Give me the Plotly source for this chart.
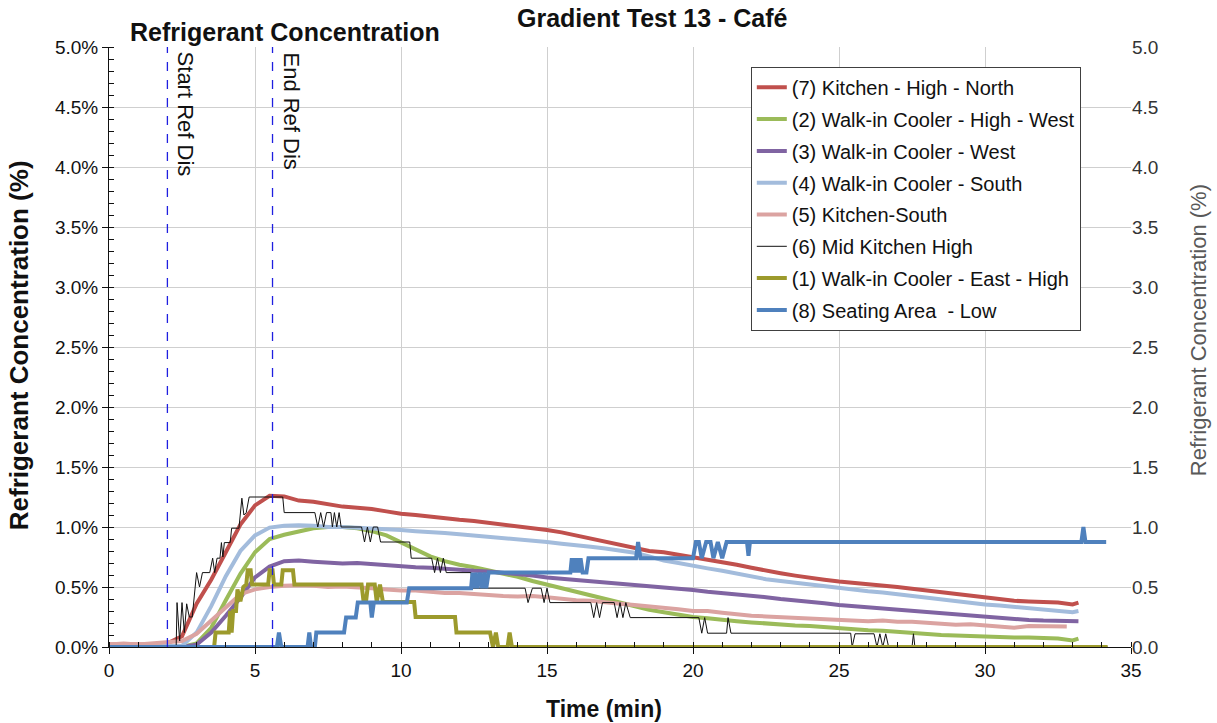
import plotly.graph_objects as go

# ---- time bases (minutes) ----
T_SMOOTH = [i / 2 for i in range(67)] + [33.2]
T_PINK = [i / 2 for i in range(66)] + [32.8]

# ---- sensor readings (% refrigerant) ----
KITCHEN_HIGH_NORTH = [
    0.02, 0.02, 0.015, 0.02, 0.03, 0.09, 0.36, 0.56, 0.79, 1.02, 1.18, 1.26, 1.255, 1.22,
    1.21, 1.19, 1.17, 1.16, 1.15, 1.13, 1.11, 1.10, 1.085, 1.075, 1.06, 1.05, 1.035, 1.02,
    1.01, 0.99, 0.975, 0.955, 0.93, 0.90, 0.875, 0.85, 0.825, 0.80, 0.79, 0.77, 0.75, 0.73,
    0.71, 0.685, 0.66, 0.635, 0.615, 0.595, 0.575, 0.56, 0.545, 0.535, 0.52, 0.51, 0.50,
    0.485, 0.47, 0.455, 0.44, 0.425, 0.41, 0.40, 0.385, 0.38, 0.375, 0.37, 0.355, 0.37,
]
WIC_HIGH_WEST = [
    0.0, 0.0, 0.0, 0.0, 0.0, 0.0, 0.03, 0.16, 0.39, 0.61, 0.79, 0.90, 0.935, 0.96,
    0.99, 1.0, 1.0, 0.99, 0.965, 0.93, 0.87, 0.81, 0.755, 0.715, 0.685, 0.665, 0.64, 0.615,
    0.585, 0.55, 0.52, 0.49, 0.455, 0.425, 0.395, 0.365, 0.335, 0.31, 0.29, 0.27, 0.25, 0.24,
    0.225, 0.215, 0.205, 0.195, 0.19, 0.18, 0.175, 0.165, 0.16, 0.15, 0.14, 0.135, 0.125,
    0.12, 0.11, 0.10, 0.095, 0.09, 0.085, 0.08, 0.08, 0.08, 0.075, 0.07, 0.055, 0.07,
]
WIC_WEST = [
    0.0, 0.0, 0.0, 0.0, 0.0, 0.0, 0.02, 0.12, 0.26, 0.41, 0.58, 0.67, 0.715, 0.72,
    0.71, 0.70, 0.695, 0.70, 0.69, 0.68, 0.67, 0.665, 0.66, 0.65, 0.64, 0.635, 0.63, 0.62,
    0.605, 0.595, 0.58, 0.57, 0.56, 0.55, 0.54, 0.53, 0.52, 0.51, 0.50, 0.49, 0.475, 0.46,
    0.45, 0.44, 0.425, 0.415, 0.40, 0.39, 0.375, 0.365, 0.35, 0.34, 0.33, 0.32, 0.31,
    0.30, 0.29, 0.28, 0.27, 0.26, 0.25, 0.24, 0.235, 0.225, 0.22, 0.215, 0.215, 0.215,
]
WIC_SOUTH = [
    0.005, 0.005, 0.005, 0.005, 0.005, 0.01, 0.12, 0.34, 0.59, 0.80, 0.93, 0.995, 1.01, 1.015,
    1.01, 1.0, 1.0, 0.995, 0.99, 0.98, 0.975, 0.965, 0.96, 0.95, 0.94, 0.93, 0.92, 0.91,
    0.90, 0.89, 0.875, 0.86, 0.85, 0.835, 0.82, 0.80, 0.785, 0.755, 0.72, 0.70, 0.675, 0.655,
    0.635, 0.61, 0.585, 0.565, 0.55, 0.535, 0.52, 0.505, 0.49, 0.48, 0.465, 0.455, 0.44,
    0.425, 0.41, 0.40, 0.385, 0.37, 0.355, 0.345, 0.335, 0.325, 0.315, 0.305, 0.29, 0.30,
]
KITCHEN_SOUTH = [
    0.02, 0.03, 0.02, 0.03, 0.04, 0.05, 0.11, 0.22, 0.34, 0.44, 0.48, 0.50, 0.51, 0.515,
    0.51, 0.50, 0.505, 0.50, 0.49, 0.48, 0.47, 0.47, 0.46, 0.45, 0.45, 0.44, 0.43, 0.425,
    0.42, 0.425, 0.415, 0.40, 0.39, 0.385, 0.37, 0.36, 0.35, 0.34, 0.325, 0.315, 0.30, 0.30,
    0.285, 0.27, 0.26, 0.255, 0.25, 0.24, 0.24, 0.23, 0.225, 0.22, 0.215, 0.22, 0.21,
    0.21, 0.20, 0.19, 0.185, 0.19, 0.18, 0.17, 0.16, 0.175, 0.17, 0.17, 0.17,
]

# stepped sensors: (time, value) pairs
MID_KITCHEN_T = [
    0, 2.3, 2.33, 2.42, 2.5, 2.58, 2.66, 2.75, 2.85, 3.0, 3.1, 3.2, 3.45, 3.55, 3.62, 3.7,
    3.8, 3.85, 3.9, 3.95, 4.15, 4.2, 4.45, 4.55, 4.62, 4.7, 4.8, 5.95, 6.0, 7.05, 7.15,
    7.25, 7.35, 7.45, 7.6, 7.65, 7.72, 7.8, 7.88, 7.95, 8.65, 8.75, 8.85, 8.95, 9.05, 9.2,
    9.3, 10.3, 10.35, 11.05, 11.15, 11.25, 11.35, 11.45, 11.55, 12.4, 12.45, 14.25, 14.35,
    14.5, 14.8, 14.9, 15.0, 15.1, 16.5, 16.6, 16.7, 16.8, 16.9, 17.3, 17.4, 17.5, 17.6,
    17.7, 17.85, 20.2, 20.3, 20.4, 20.5, 21.15, 21.2, 21.3, 25.4, 25.45, 25.55, 26.2, 26.3,
    26.4, 26.5, 26.6, 26.7, 27.5, 27.55, 27.6, 34.2,
]
MID_KITCHEN_V = [
    0, 0, 0.37, 0.05, 0.37, 0.12, 0.36, 0.25, 0.25, 0.62, 0.5, 0.62, 0.62, 0.74, 0.62, 0.74,
    0.74, 0.87, 0.75, 0.87, 0.87, 0.99, 0.99, 1.24, 1.1, 1.12, 1.25, 1.25, 1.12, 1.12, 1.0,
    1.12, 1.0, 1.12, 1.12, 1.0, 1.12, 1.0, 1.12, 1.0, 1.0, 0.875, 1.0, 0.875, 1.0, 1.0,
    0.875, 0.875, 0.74, 0.74, 0.62, 0.74, 0.62, 0.74, 0.62, 0.62, 0.49, 0.49, 0.37,
    0.49, 0.49, 0.37, 0.49, 0.37, 0.37, 0.245, 0.37, 0.245, 0.37, 0.37, 0.245, 0.37, 0.245,
    0.37, 0.245, 0.245, 0.115, 0.245, 0.115, 0.115, 0.245, 0.115, 0.115, 0.0, 0.11, 0.11, 0.0,
    0.11, 0.0, 0.11, 0.0, 0.0, 0.11, 0.0, 0.0,
]
WIC_EAST_T = [
    0, 3.6, 3.65, 4.1, 4.15, 4.2, 4.25, 4.35, 4.4, 4.5, 4.6, 4.7, 4.75, 4.85, 4.9, 5.45,
    5.5, 5.6, 5.65, 5.9, 5.95, 6.3, 6.35, 8.65, 8.72, 8.8, 8.87, 9.1, 9.17, 9.28, 9.38,
    10.45, 10.5, 11.85, 11.9, 13.05, 13.15, 13.25, 13.33, 13.65, 13.72, 13.8, 34.2,
]
WIC_EAST_V = [
    0, 0, 0.12, 0.12, 0.3, 0.12, 0.3, 0.3, 0.48, 0.38, 0.5, 0.52, 0.64, 0.64, 0.52, 0.52,
    0.64, 0.64, 0.52, 0.52, 0.64, 0.64, 0.52, 0.52, 0.375, 0.375, 0.52, 0.52, 0.375, 0.52,
    0.375, 0.375, 0.25, 0.25, 0.12, 0.12, 0.0, 0.12, 0.0, 0.0, 0.12, 0.0, 0.0,
]
SEATING_T = [
    0, 5.75, 5.82, 5.9, 6.8, 6.86, 6.92, 7.05, 7.1, 8.05, 8.12, 8.45, 8.52, 8.95, 9.0, 9.07,
    10.2, 10.28, 12.4, 12.45, 12.5, 12.55, 12.62, 12.7, 12.78, 12.85, 12.92, 13.0, 15.8,
    15.85, 15.9, 15.95, 16.0, 16.05, 16.1, 16.15, 16.22, 16.35, 16.42, 18.05, 18.12, 18.2,
    20.0, 20.1, 20.2, 20.3, 20.45, 20.6, 20.7, 20.85, 21.0, 21.15, 21.85, 21.9, 21.95,
    33.3, 33.37, 33.44, 34.15,
]
SEATING_V = [
    0, 0, 0.12, 0, 0, 0.12, 0, 0, 0.12, 0.12, 0.245, 0.245, 0.37, 0.37, 0.245, 0.37,
    0.37, 0.49, 0.49, 0.62, 0.49, 0.62, 0.49, 0.62, 0.49, 0.62, 0.49, 0.62, 0.62,
    0.74, 0.62, 0.74, 0.62, 0.74, 0.62, 0.74, 0.62, 0.62, 0.74, 0.74, 0.875, 0.74,
    0.74, 0.875, 0.875, 0.74, 0.875, 0.875, 0.74, 0.875, 0.74, 0.875, 0.875, 0.76, 0.875,
    0.875, 1.0, 0.875, 0.875,
]

SERIES = [
    ("(7) Kitchen - High - North", T_SMOOTH, KITCHEN_HIGH_NORTH, "#c0504d", 4),
    ("(2) Walk-in Cooler - High - West", T_SMOOTH, WIC_HIGH_WEST, "#9bbb59", 4),
    ("(3) Walk-in Cooler - West", T_SMOOTH, WIC_WEST, "#8064a2", 4),
    ("(4) Walk-in Cooler - South", T_SMOOTH, WIC_SOUTH, "#a3bcdc", 4),
    ("(5) Kitchen-South", T_PINK, KITCHEN_SOUTH, "#dba3a1", 4),
    ("(6) Mid Kitchen High", MID_KITCHEN_T, MID_KITCHEN_V, "#111111", 1),
    ("(1) Walk-in Cooler - East - High", WIC_EAST_T, WIC_EAST_V, "#9c9a2c", 4),
    ("(8) Seating Area&nbsp; - Low", SEATING_T, SEATING_V, "#4f81bd", 4),
]

EVENTS = [("Start Ref Dis", 2.0), ("End Ref Dis", 5.6)]

FONT = "Liberation Sans, Arial, sans-serif"

fig = go.Figure()
for i, (name, t, v, color, width) in enumerate(SERIES):
    fig.add_trace(go.Scatter(
        x=t, y=v, name=name, mode="lines",
        line=dict(color=color, width=width),
        legendgroup=f"g{i}",
    ))

# invisible trace that anchors the right-hand axis
fig.add_trace(go.Scatter(x=[0], y=[0], yaxis="y2", mode="markers",
                         marker=dict(opacity=0), showlegend=False, hoverinfo="skip"))

for label, t in EVENTS:
    fig.add_shape(type="line", x0=t, x1=t, xref="x", y0=0, y1=1, yref="paper",
                  line=dict(color="#1f1fe0", width=1.3, dash="dash"))
    fig.add_annotation(x=t, y=1, xref="x", yref="paper", text=label, textangle=90,
                       showarrow=False, xanchor="left", yanchor="top", xshift=4, yshift=-3,
                       font=dict(family=FONT, size=22, color="#111111"))

fig.add_annotation(text="<b>Gradient Test 13 - Café</b>", x=0.532, y=1.048, xref="paper",
                   yref="paper", showarrow=False, xanchor="center", yanchor="middle",
                   font=dict(family=FONT, size=25, color="#111111"))
fig.add_annotation(text="<b>Refrigerant Concentration</b>", x=0.0186, y=1.025, xref="paper",
                   yref="paper", showarrow=False, xanchor="left", yanchor="middle",
                   font=dict(family=FONT, size=25, color="#111111"))
fig.add_annotation(text="<b>Refrigerant Concentration (%)</b>", x=-0.088, y=0.503,
                   xref="paper", yref="paper", showarrow=False, textangle=-90,
                   xanchor="center", yanchor="middle",
                   font=dict(family=FONT, size=26, color="#111111"))
fig.add_annotation(text="Refrigerant Concentration (%)", x=1.0656, y=0.528,
                   xref="paper", yref="paper", showarrow=False, textangle=-90,
                   xanchor="center", yanchor="middle",
                   font=dict(family=FONT, size=22, color="#595959"))
fig.add_annotation(text="<b>Time (min)</b>", x=0.484, y=-0.103, xref="paper", yref="paper",
                   showarrow=False, xanchor="center", yanchor="middle",
                   font=dict(family=FONT, size=23, color="#111111"))

tick_font = dict(family=FONT, size=19, color="#111111")
fig.update_layout(
    width=1217, height=723,
    margin=dict(l=109, r=86, t=47, b=76),
    paper_bgcolor="white", plot_bgcolor="white",
    font=dict(family=FONT, color="#111111"),
    showlegend=True,
    legend=dict(x=0.628, y=0.967, xanchor="left", yanchor="top",
                bgcolor="white", bordercolor="#404040", borderwidth=1,
                font=dict(family=FONT, size=20, color="#111111"),
                tracegroupgap=2.8, traceorder="grouped"),
    xaxis=dict(range=[0, 35], dtick=5, tick0=0, showgrid=True, gridcolor="#cfcfcf",
               gridwidth=1, zeroline=False, showline=True, linecolor="#111111",
               linewidth=1, ticks="outside", ticklen=6, tickcolor="#111111",
               tickfont=tick_font,
               minor=dict(dtick=1, ticks="inside", ticklen=5, tickcolor="#111111",
                          showgrid=False)),
    yaxis=dict(range=[0, 5], dtick=0.5, tick0=0, tickformat=".1f", ticksuffix="%",
               showgrid=True, gridcolor="#cfcfcf", gridwidth=1, zeroline=False,
               showline=True, linecolor="#111111", linewidth=1, ticks="outside",
               ticklen=6, tickcolor="#111111", tickfont=tick_font,
               minor=dict(dtick=0.1, ticks="inside", ticklen=5, tickcolor="#111111",
                          showgrid=False)),
    yaxis2=dict(range=[0, 5], dtick=0.5, tick0=0, tickformat=".1f", overlaying="y",
                side="right", showgrid=False, zeroline=False, showline=False,
                ticks="", tickfont=dict(family=FONT, size=19, color="#333333")),
)

fig.write_html("out.html")
